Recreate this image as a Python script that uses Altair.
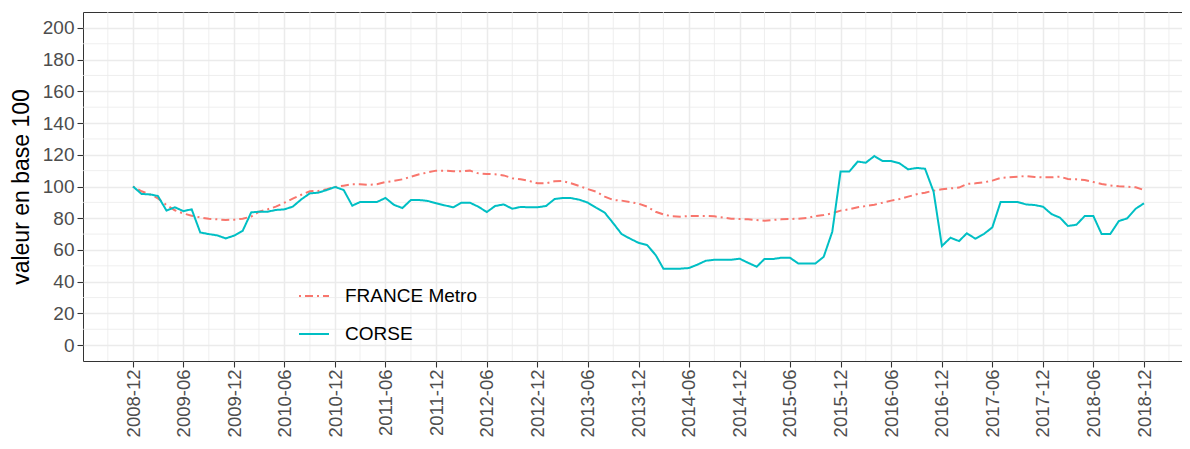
import altair as alt
import pandas as pd

# ---- data ----
months = pd.date_range("2008-12-01", periods=121, freq="MS").strftime("%Y-%m-%d").tolist()

france = [100, 97, 95, 92.5, 88.3, 85, 83, 81.6, 80.5, 79.7, 79.3, 78.9, 79.1, 79.7, 81,
          84.1, 85.6, 87.3, 89.8, 92.3, 94.8, 97, 97.2, 98.3, 99.7, 100.5, 101.4, 101.4, 101, 101.4,
          102.8, 103.5, 104.5, 106.2, 107.7, 108.9, 110, 110, 109.6, 109.6, 110, 108.3, 107.9, 107.7, 107,
          105.2, 104.5, 103.5, 102, 102, 103.3, 103.5, 102, 100.3, 98.4, 96.7, 93.6, 91.5, 91.1, 90.2,
          89.2, 87.3, 84.1, 82.4, 81.2, 81, 81.4, 81.4, 81.4, 81.2, 80.5, 79.7, 79.5, 79.3, 78.9,
          78.4, 78.9, 79.3, 79.5, 79.7, 80.1, 81.4, 82, 83.1, 84.8, 85.6, 86.9, 87.7, 88.5, 89.8,
          91.1, 92.1, 93.6, 95.1, 96.1, 97.4, 98.2, 98.8, 99.3, 101.6, 102, 102.6, 103.7, 105.4, 105.8,
          106.2, 106.6, 106, 105.8, 105.8, 106.2, 104.7, 104.5, 104.1, 102.8, 101.6, 100.7, 100.1, 99.9, 99.5,
          97.8]

corse = [100, 95.3, 95, 94, 84.8, 86.9, 84.5, 85.6, 71, 70, 69.2, 67.3, 69, 72, 83.7,
         84.1, 84.1, 85.2, 85.6, 87.3, 91.9, 95.7, 96.1, 97.8, 99.7, 97.8, 87.9, 90.2, 90.2, 90.2,
         92.8, 88.5, 86.4, 91.5, 91.5, 90.9, 89.4, 88.1, 86.9, 89.8, 89.8, 87.3, 83.9, 87.7, 88.7,
         86, 87.1, 86.9, 86.9, 87.7, 92.1, 92.7, 92.7, 91.7, 89.8, 86.6, 83.5, 76.8, 70, 67.1,
         64.5, 63.1, 56.8, 48.2, 48.2, 48.2, 48.6, 50.7, 53.2, 53.8, 53.8, 53.8, 54.5, 51.9, 49.4,
         54.3, 54.3, 55.1, 55.1, 51.5, 51.5, 51.5, 55.7, 71.5, 109.4, 109.4, 115.7, 115, 119.2, 116,
         116, 114.6, 110.8, 111.7, 111.2, 96.7, 62.5, 67.7, 65.6, 70.5, 67.1, 70, 74.2, 90.2, 90.2,
         90.2, 88.7, 88.3, 87.3, 82.6, 80.3, 75.1, 75.9, 81.4, 81.4, 70, 70, 78.2, 79.9, 86,
         89.4]

series_names = ["FRANCE Metro", "CORSE"]
series_colors = ["#F8766D", "#00BFC4"]
series_dash = [[2, 4, 8, 4], [1, 0]]

x_ticks = pd.date_range("2008-12-01", "2018-12-01", freq="6MS")
x_minor = pd.date_range("2008-09-01", "2019-03-01", freq="6MS").strftime("%Y-%m-%d").tolist()
y_ticks = list(range(0, 201, 20))
y_minor = list(range(10, 200, 20))

df = pd.DataFrame({
    "date": months * 2,
    "value": france + corse,
    "serie": [series_names[0]] * len(france) + [series_names[1]] * len(corse),
})
df_xminor = pd.DataFrame({"date": x_minor})
df_yminor = pd.DataFrame({"value": y_minor})

# ---- layout ----
PLOT_W, PLOT_H = 1099, 349


def ms(ts):
    return int(pd.Timestamp(ts).value // 10**6)


d0, d1 = ms("2008-12-01"), ms("2018-12-01")
span = d1 - d0
dom_start = d0 - span * 50 / 1011
dom_end = d1 + span * 38 / 1011

FONT = "Liberation Sans"
GRID = "#EBEBEB"

x_scale = alt.Scale(type="utc", domain=[dom_start, dom_end], nice=False)
y_scale = alt.Scale(domain=[-10, 210], nice=False, zero=False)

x_axis = alt.Axis(
    values=[ms(t) for t in x_ticks],
    labelExpr="utcFormat(datum.value, '%Y-%m')", labelAngle=270, title=None,
    grid=True, gridColor=GRID, gridWidth=1.5, domain=False,
    tickColor="#333333", tickSize=6, tickWidth=1.1,
    labelFont=FONT, labelFontSize=18.5, labelColor="#4D4D4D", labelPadding=2,
)
y_axis = alt.Axis(
    values=y_ticks, title="valeur en base 100",
    grid=True, gridColor=GRID, gridWidth=1.5, domain=False,
    tickColor="#333333", tickSize=6, tickWidth=1.1,
    labelFont=FONT, labelFontSize=19, labelColor="#4D4D4D", labelPadding=3,
    titleFont=FONT, titleFontSize=23, titleFontWeight="normal", titleColor="black",
    titlePadding=9,
)

minor_x = alt.Chart(df_xminor).mark_rule(color=GRID, strokeWidth=0.8).encode(
    x=alt.X("date:T", scale=x_scale, axis=x_axis)
)
minor_y = alt.Chart(df_yminor).mark_rule(color=GRID, strokeWidth=0.8).encode(
    y=alt.Y("value:Q", scale=y_scale, axis=y_axis)
)

legend = alt.Legend(
    title=None, orient="none", legendX=215, legendY=268,
    symbolType="stroke", symbolSize=900, symbolStrokeWidth=2,
    labelFont=FONT, labelFontSize=19, labelColor="black",
    rowPadding=12, labelOffset=15,
)

lines = alt.Chart(df).mark_line(strokeWidth=2, clip=True).encode(
    x=alt.X("date:T", scale=x_scale, axis=x_axis),
    y=alt.Y("value:Q", scale=y_scale, axis=y_axis),
    color=alt.Color("serie:N", scale=alt.Scale(domain=series_names, range=series_colors),
                    legend=legend),
    strokeDash=alt.StrokeDash("serie:N", scale=alt.Scale(domain=series_names, range=series_dash),
                              legend=legend),
)

chart = alt.layer(minor_x, minor_y, lines).properties(
    width=PLOT_W, height=PLOT_H,
    padding={"left": 75, "top": 4, "right": 0, "bottom": 76},
    autosize=alt.AutoSizeParams(type="none"),
    background="white",
).configure_view(stroke="#333333", strokeWidth=1)

chart.save("out.html", embed_options={"renderer": "svg", "actions": False})
